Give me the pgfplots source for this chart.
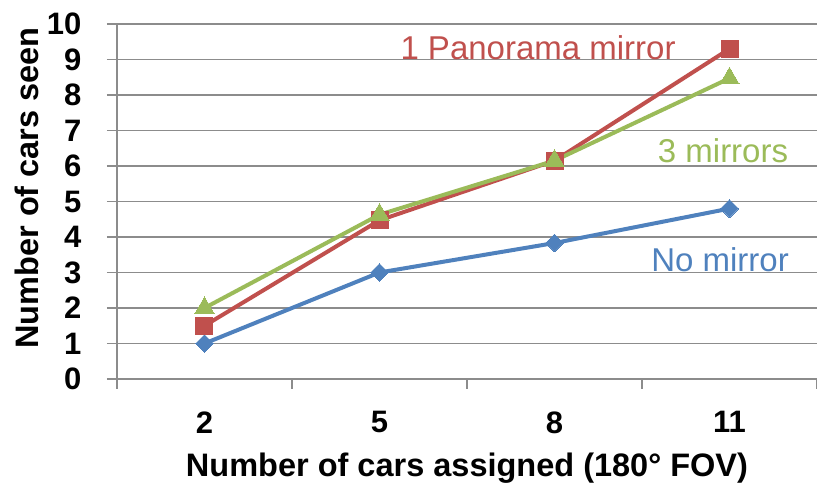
\documentclass[border=0pt]{standalone}
\usepackage{fontspec}
\setmainfont{Liberation Sans}
\usepackage{pgfplots}
\pgfplotsset{compat=1.18}
\definecolor{nomir}{HTML}{4F81BD}
\definecolor{panmir}{HTML}{C0504D}
\definecolor{threemir}{HTML}{9BBB59}
\definecolor{gridc}{HTML}{8C8C8C}

\begin{document}
\begin{tikzpicture}
\path[use as bounding box] (-117pt,-110pt) rectangle (700pt,379pt);
\begin{axis}[
    scale only axis,
    width=700pt, height=355pt,
    xmin=0.5, xmax=4.5, ymin=0, ymax=10,
    axis x line*=bottom, axis y line*=left,
    axis line style={gridc, line width=1.3pt},
    xtick={1,2,3,4}, xticklabels={2,5,8,11},
    minor xtick={0.5,1.5,2.5,3.5,4.5},
    ytick={0,1,...,10},
    ymajorgrids,
    major grid style={gridc, line width=1.3pt},
    tick align=outside,
    major tick length=10pt, minor tick length=10pt,
    tick style={gridc, line width=1.3pt},
    major x tick style={draw=none},
    /pgf/number format/assume math mode=true,
    ticklabel style={font=\fontsize{31}{36}\selectfont\bfseries},
    xticklabel style={yshift=-19pt},
    yticklabel style={xshift=-22pt},
    label style={font=\fontsize{32.5}{38}\selectfont\bfseries},
    xlabel={Number of cars assigned (180° FOV)},
    ylabel={Number of cars seen},
    xlabel style={at={(axis description cs:0.5,-0.276)}, anchor=base},
    ylabel style={at={(axis description cs:-0.129,0.538)}, anchor=center},
    every axis plot/.append style={line width=4pt},
]
\addplot[color=nomir, mark=square*, mark size=6.3pt, mark options={rotate=45, line width=0pt}]
  coordinates {(1,1) (2,3) (3,3.83) (4,4.8)};
\addplot[color=panmir, mark=square*, mark size=8.5pt, mark options={line width=0pt}]
  coordinates {(1,1.5) (2,4.47) (3,6.15) (4,9.3)};
\addplot[color=threemir, mark=triangle*, mark size=11pt, mark options={line width=0pt}]
  coordinates {(1,2) (2,4.63) (3,6.15) (4,8.47)};

\node[font=\fontsize{33}{38}\selectfont, text=panmir, inner sep=0pt, anchor=center]
  at (axis cs:2.906,9.32) {1 Panorama mirror};
\node[font=\fontsize{33}{38}\selectfont, text=threemir, inner sep=0pt, anchor=center]
  at (axis cs:3.963,6.42) {3 mirrors};
\node[font=\fontsize{33}{38}\selectfont, text=nomir, inner sep=0pt, anchor=center]
  at (axis cs:3.946,3.35) {No mirror};
\end{axis}
\end{tikzpicture}
\end{document}
